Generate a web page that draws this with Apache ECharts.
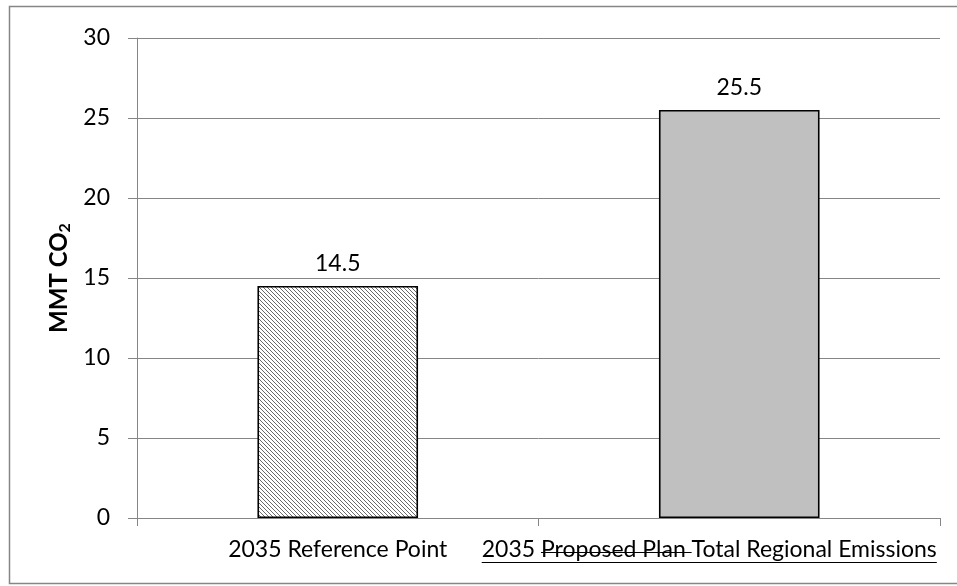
<!DOCTYPE html>
<html>
<head>
<meta charset="utf-8">
<script src="https://cdn.jsdelivr.net/npm/echarts@6/dist/echarts.min.js"></script>
<style>
html,body{margin:0;padding:0;background:#fff;}
#chart{width:957px;height:586px;}
</style>
</head>
<body>
<div id="chart"></div>
<script>
// ---- data ----
var categories = ['2035 Reference Point', '2035 Proposed Plan Total Regional Emissions'];
var struckPart = 'Proposed Plan ';
var values = [14.5, 25.5];
var yTicks = [0, 5, 10, 15, 20, 25, 30];
var yTitle = 'MMT CO';
var yTitleSub = '2';

var FONT = 'Lato, "Open Sans", sans-serif';
var FS = 23;
var LABEL_MARGIN = 20;

function makeHatch() {
  var c = document.createElement('canvas');
  c.width = 4; c.height = 4;
  var g = c.getContext('2d');
  g.fillStyle = '#ffffff'; g.fillRect(0, 0, 4, 4);
  g.fillStyle = '#6a6a6a';
  for (var i = 0; i < 4; i++) g.fillRect(i, i, 1, 1);
  return c;
}

var chart = echarts.init(document.getElementById('chart'), null, {renderer: 'canvas'});

var measureCtx = document.createElement('canvas').getContext('2d');
measureCtx.font = FS + 'px ' + FONT;
function tw(s) { return measureCtx.measureText(s).width; }

function buildOption(shift) {
  return {
    animation: false,
    backgroundColor: '#ffffff',
    grid: {left: 137, right: 17, top: 38, bottom: 68, containLabel: false},
    xAxis: {
      type: 'category',
      data: categories,
      axisLine: {show: true, lineStyle: {color: '#868686', width: 1}},
      axisTick: {show: true, length: 8, lineStyle: {color: '#868686'}},
      axisLabel: {
        interval: 0, hideOverlap: false,
        color: '#000', fontFamily: FONT, fontSize: FS, margin: LABEL_MARGIN,
        formatter: function (v, i) { return i === 1 ? '{s|' + v + '}' : v; },
        rich: {s: {fontFamily: FONT, fontSize: FS, color: '#000', padding: [0, 2 * shift, 0, 0]}}
      },
      splitLine: {show: false}
    },
    yAxis: {
      type: 'value', min: 0, max: 30, interval: 5,
      name: '{a|' + yTitle + '}{b|' + yTitleSub + '}',
      nameLocation: 'middle', nameGap: 62, nameRotate: 90,
      nameTextStyle: {
        rich: {
          a: {fontFamily: FONT, fontSize: 24, fontWeight: 'bold', color: '#000'},
          b: {fontFamily: FONT, fontSize: 16, fontWeight: 'bold', color: '#000', padding: [10, 0, 0, 0]}
        }
      },
      axisLine: {show: true, lineStyle: {color: '#868686', width: 1}},
      axisTick: {show: true, length: 9, inside: false, lineStyle: {color: '#868686'}},
      axisLabel: {color: '#000', fontFamily: FONT, fontSize: FS, margin: 27,
        formatter: function (v) { return yTicks.indexOf(v) >= 0 ? String(v) : ''; }},
      splitLine: {show: true, lineStyle: {color: '#868686', width: 1}}
    },
    series: [{
      type: 'bar',
      barWidth: '40%',
      data: [
        {value: values[0], itemStyle: {color: {image: makeHatch(), repeat: 'repeat'}}},
        {value: values[1], itemStyle: {color: '#c0c0c0'}}
      ],
      itemStyle: {borderColor: '#000', borderWidth: 1.6},
      label: {show: true, position: 'top', distance: 11, color: '#000', fontFamily: FONT, fontSize: FS,
        formatter: function (p) { return p.value.toFixed(1); }}
    }]
  };
}

chart.setOption(buildOption(0));
var c0 = chart.convertToPixel({xAxisIndex: 0}, 0);
var cx = chart.convertToPixel({xAxisIndex: 0}, 1);
var xEnd = c0 + (cx - c0) * 1.5;
var full = categories[1];
var w = tw(full);
// Excel keeps the long label inside the plot: its right edge meets the axis end
var shift = Math.max(0, cx + w / 2 - xEnd);
chart.setOption(buildOption(shift));

// locate the rendered label to place the underline / strikethrough
var y0 = chart.convertToPixel({yAxisIndex: 0}, 0);
var left = cx - w / 2 - shift;
var labelCenter = y0 + LABEL_MARGIN + FS / 2;
try {
  var list = chart.getZr().storage.getDisplayList(true);
  for (var k = 0; k < list.length; k++) {
    var el = list[k];
    if (el.style && typeof el.style.text === 'string' && el.style.text.indexOf('Regional') >= 0) {
      var r = el.getBoundingRect().clone();
      var m = el.getComputedTransform();
      if (m) r.applyTransform(m);
      left = r.x;
      labelCenter = r.y + r.height / 2;
      break;
    }
  }
} catch (e) {}

var pre = full.indexOf(struckPart);
var sx0 = left + tw(full.slice(0, pre));
var sx1 = left + tw(full.slice(0, pre + struckPart.length));
var strikeY = Math.round(labelCenter + 2) + 0.5;
var underY = Math.round(labelCenter + 12) + 0.5;
chart.setOption({
  graphic: [
    {type: 'rect', silent: true, shape: {x: 9.5, y: 6.5, width: 960, height: 577},
      style: {fill: null, stroke: '#868686', lineWidth: 1.5}},
    {type: 'line', silent: true, shape: {x1: sx0, y1: strikeY, x2: sx1, y2: strikeY},
      style: {stroke: '#000', lineWidth: 1.2}},
    {type: 'line', silent: true, shape: {x1: left, y1: underY, x2: left + w, y2: underY},
      style: {stroke: '#000', lineWidth: 1.2}}
  ]
});
</script>
</body>
</html>
